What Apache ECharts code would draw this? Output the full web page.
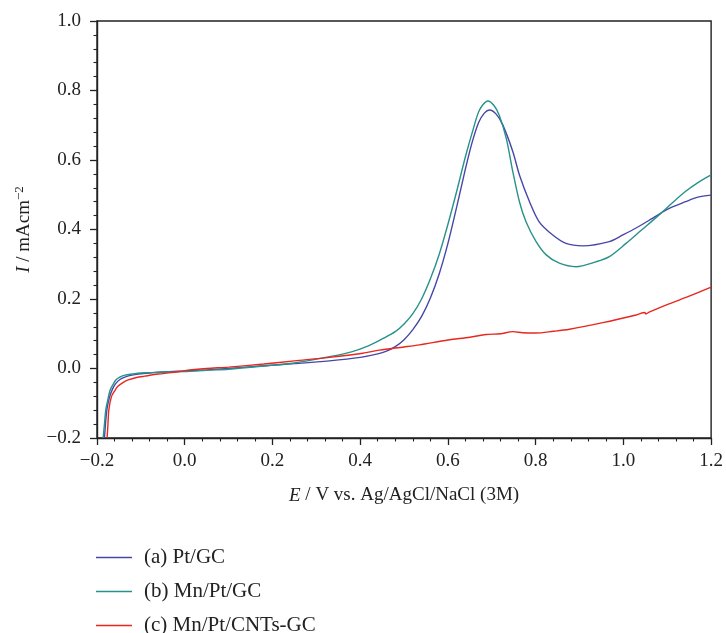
<!DOCTYPE html>
<html>
<head>
<meta charset="utf-8">
<script src="https://cdn.jsdelivr.net/npm/echarts@6/dist/echarts.min.js"></script>
<style>
  html, body { margin: 0; padding: 0; background: #fff; }
  #chart { width: 726px; height: 633px; }
</style>
</head>
<body>
<div id="chart"></div>
<script>
// Linear sweep voltammograms: potential E (V) and current density I (mA cm^-2)
const seriesNames = ['(a) Pt/GC', '(b) Mn/Pt/GC', '(c) Mn/Pt/CNTs-GC'];
const seriesColors = ['#4747a8', '#27918a', '#e8271f'];

const ptGcE = [-0.183, -0.180, -0.177, -0.172, -0.165, -0.157, -0.147, -0.135, -0.12, -0.10, -0.08, -0.05, 0.0, 0.05, 0.10, 0.18, 0.25, 0.33, 0.40, 0.44, 0.46, 0.48, 0.50, 0.52, 0.54, 0.56, 0.58, 0.60, 0.62, 0.64, 0.655, 0.67, 0.683, 0.695, 0.71, 0.725, 0.748, 0.763, 0.786, 0.808, 0.839, 0.869, 0.907, 0.968, 1.00, 1.03, 1.066, 1.10, 1.142, 1.17, 1.20];
const ptGcI = [-0.200, -0.150, -0.115, -0.085, -0.060, -0.043, -0.031, -0.024, -0.019, -0.015, -0.013, -0.010, -0.007, -0.004, 0.000, 0.008, 0.014, 0.022, 0.032, 0.042, 0.050, 0.063, 0.083, 0.112, 0.150, 0.203, 0.272, 0.360, 0.465, 0.575, 0.650, 0.708, 0.735, 0.744, 0.732, 0.701, 0.624, 0.557, 0.480, 0.422, 0.384, 0.360, 0.353, 0.365, 0.385, 0.405, 0.432, 0.458, 0.480, 0.493, 0.499];

const mnPtGcE = [-0.186, -0.183, -0.180, -0.175, -0.170, -0.163, -0.157, -0.148, -0.136, -0.12, -0.10, -0.08, -0.05, 0.0, 0.05, 0.10, 0.18, 0.25, 0.33, 0.38, 0.42, 0.45, 0.48, 0.50, 0.52, 0.54, 0.56, 0.58, 0.60, 0.62, 0.64, 0.657, 0.672, 0.691, 0.705, 0.717, 0.733, 0.748, 0.763, 0.778, 0.801, 0.824, 0.854, 0.892, 0.937, 0.968, 1.006, 1.04, 1.077, 1.11, 1.142, 1.17, 1.20];
const mnPtGcI = [-0.200, -0.160, -0.119, -0.088, -0.062, -0.045, -0.033, -0.025, -0.019, -0.016, -0.013, -0.012, -0.010, -0.009, -0.005, -0.002, 0.007, 0.016, 0.034, 0.048, 0.066, 0.085, 0.106, 0.128, 0.158, 0.200, 0.258, 0.328, 0.415, 0.510, 0.610, 0.686, 0.744, 0.770, 0.757, 0.729, 0.662, 0.566, 0.480, 0.422, 0.365, 0.327, 0.303, 0.293, 0.307, 0.322, 0.360, 0.397, 0.437, 0.475, 0.510, 0.535, 0.557];

const mnPtCntE = [-0.177, -0.175, -0.173, -0.167, -0.160, -0.153, -0.140, -0.129, -0.110, -0.091, -0.06, -0.03, 0.0, 0.05, 0.10, 0.18, 0.25, 0.33, 0.406, 0.444, 0.50, 0.535, 0.60, 0.65, 0.687, 0.72, 0.748, 0.77, 0.80, 0.84, 0.877, 0.953, 1.029, 1.049, 1.051, 1.06, 1.104, 1.15, 1.20];
const mnPtCntI = [-0.200, -0.160, -0.119, -0.081, -0.065, -0.052, -0.040, -0.033, -0.026, -0.022, -0.016, -0.012, -0.006, 0.000, 0.004, 0.013, 0.022, 0.032, 0.044, 0.053, 0.062, 0.068, 0.082, 0.090, 0.098, 0.100, 0.106, 0.103, 0.102, 0.107, 0.113, 0.132, 0.154, 0.161, 0.157, 0.163, 0.186, 0.208, 0.234];

const seriesE = [ptGcE, mnPtGcE, mnPtCntE];
const seriesI = [ptGcI, mnPtGcI, mnPtCntI];

const serif = 'Liberation Serif';
const ink = '#222';

const chart = echarts.init(document.getElementById('chart'), null, { renderer: 'canvas' });

const axisCommon = {
  axisLine: { show: true, onZero: false, lineStyle: { color: ink, width: 1.4 } },
  axisTick: { show: true, inside: false, length: 7, lineStyle: { color: ink, width: 1.3 } },
  minorTick: { show: true, splitNumber: 5, length: 3.5, lineStyle: { color: ink, width: 1.1 } },
  splitLine: { show: false },
  axisLabel: {
    fontFamily: serif, fontSize: 19, color: ink,
    formatter: v => (v < 0 ? '\u2212' + Math.abs(v).toFixed(1) : v.toFixed(1))
  }
};

// One single-entry legend per series, stacked in a column under the plot
const legendTops = [547, 581, 615];
const legends = seriesNames.map((name, k) => ({
  orient: 'vertical', left: 96, top: legendTops[k], padding: 0,
  itemWidth: 36, itemHeight: 14,
  icon: 'path://M0,0L36,0L36,1.4L0,1.4Z',
  textStyle: { fontFamily: serif, fontSize: 21, color: ink, lineHeight: 14, padding: [0, 0, 0, 7] },
  data: [name]
}));

chart.setOption({
  animation: false,
  backgroundColor: '#fff',
  grid: {
    left: 97, right: 14, top: 21, bottom: 195,
    show: true, borderColor: ink, borderWidth: 1.4, backgroundColor: 'transparent'
  },
  xAxis: Object.assign({}, axisCommon, {
    type: 'value', min: -0.2, max: 1.2, interval: 0.2,
    axisLabel: Object.assign({}, axisCommon.axisLabel, { margin: 14 }),
    name: '{i|E} / V vs. Ag/AgCl/NaCl (3M)',
    nameLocation: 'middle', nameGap: 48,
    nameTextStyle: {
      fontFamily: serif, fontSize: 19, color: ink,
      rich: { i: { fontFamily: serif, fontSize: 19, fontStyle: 'italic', color: ink } }
    }
  }),
  yAxis: Object.assign({}, axisCommon, {
    type: 'value', min: -0.2, max: 1.0, interval: 0.2,
    axisLabel: Object.assign({}, axisCommon.axisLabel, { margin: 16 }),
    name: '{i|I} / mAcm{sup|\u22122}',
    nameLocation: 'middle', nameGap: 62, nameRotate: 90,
    nameTextStyle: {
      fontFamily: serif, fontSize: 19, color: ink,
      rich: {
        i: { fontFamily: serif, fontSize: 19, fontStyle: 'italic', color: ink },
        sup: { fontFamily: serif, fontSize: 13, color: ink, verticalAlign: 'top', padding: [0, 0, 9, 0] }
      }
    }
  }),
  legend: legends,
  series: seriesNames.map((name, k) => ({
    name: name,
    type: 'line',
    data: seriesE[k].map((e, j) => [e, seriesI[k][j]]),
    showSymbol: false,
    symbol: 'none',
    smooth: 0.3,
    clip: true,
    color: seriesColors[k],
    lineStyle: { color: seriesColors[k], width: 1.4 }
  }))
});
</script>
</body>
</html>
